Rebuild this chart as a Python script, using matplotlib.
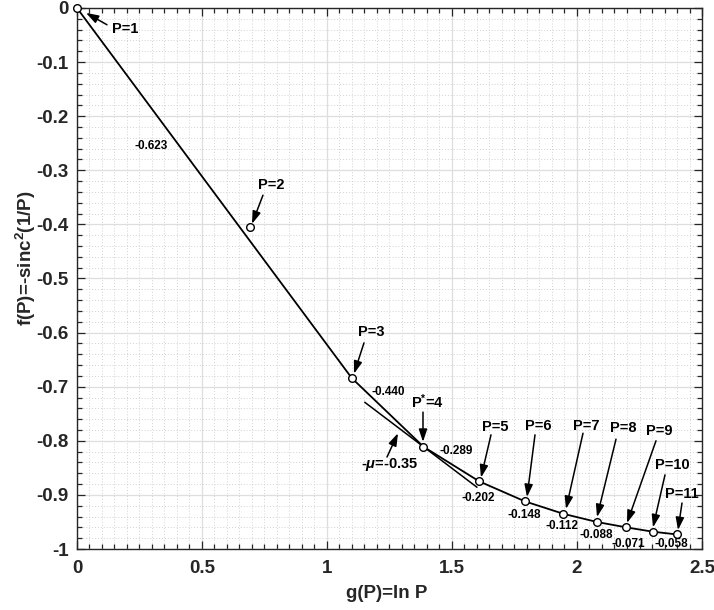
import matplotlib
matplotlib.use("Agg")
import matplotlib.pyplot as plt
from matplotlib.ticker import MultipleLocator

plt.rcParams["font.family"] = ["Liberation Sans", "DejaVu Sans"]
plt.rcParams["font.weight"] = "bold"
plt.rcParams["mathtext.fontset"] = "custom"
plt.rcParams["mathtext.rm"] = "Liberation Sans:bold"
plt.rcParams["mathtext.it"] = "Liberation Sans:italic"
plt.rcParams["mathtext.bf"] = "Liberation Sans:bold"

# data
P = [1, 2, 3, 4, 5, 6, 7, 8, 9, 10, 11]
g = [0.0, 0.693, 1.099, 1.386, 1.609, 1.792, 1.946, 2.079, 2.197, 2.303, 2.398]
f = [0.0, -0.405, -0.684, -0.811, -0.875, -0.912, -0.935, -0.950, -0.960, -0.968, -0.973]
slopes = ["-0.623", "-0.440", "-0.289", "-0.202", "-0.148", "-0.112", "-0.088", "-0.071", "-0.058"]
mu = 0.35
p_star = 4
tangent_x = [1.152, 1.599]

# curve skips P=2 (straight P=1 -> P=3)
curve_idx = [0] + list(range(2, len(P)))

fig = plt.figure(figsize=(7.14, 6.10), dpi=100)
ax = fig.add_axes([0.1078, 0.1, 0.8754, 0.8869])

ax.plot([g[i] for i in curve_idx], [f[i] for i in curve_idx], color="black", lw=1.3, zorder=3)
ax.plot(g, f, "o", ms=5.5, mfc="white", mec="black", mew=1.0, zorder=4, clip_on=False)

# tangent at P*
i4 = P.index(p_star)
ax.plot(tangent_x, [f[i4] - mu * (x - g[i4]) for x in tangent_x], color="black", lw=1.1, zorder=3)

# point labels: text pos, arrow tail, arrow head
labels = [
    ("P=1", (0.14, -0.039), (0.12, -0.031), (0.036, -0.009), "left"),
    ("P=2", (0.776, -0.327), (0.744, -0.346), (0.70, -0.399), "center"),
    ("P=3", (1.176, -0.599), (1.148, -0.619), (1.108, -0.676), "center"),
    (r"P$^{\mathrm{*}}$=4", (1.40, -0.728), (1.384, -0.747), (1.384, -0.802), "center"),
    (r"-$\mu$=-0.35", (1.252, -0.843), (1.24, -0.830), (1.284, -0.786), "center"),
    ("P=5", (1.672, -0.7745), (1.656, -0.789), (1.616, -0.868), "center"),
    ("P=6", (1.844, -0.773), (1.832, -0.789), (1.80, -0.904), "center"),
    ("P=7", (2.036, -0.773), (2.024, -0.786), (1.956, -0.926), "center"),
    ("P=8", (2.184, -0.776), (2.156, -0.797), (2.08, -0.941), "center"),
    ("P=9", (2.328, -0.782), (2.316, -0.800), (2.20, -0.952), "center"),
    ("P=10", (2.38, -0.845), (2.352, -0.863), (2.304, -0.960), "center"),
    ("P=11", (2.42, -0.898), (2.42, -0.915), (2.404, -0.965), "center"),
]
for txt, tpos, tail, head, ha in labels:
    ax.text(tpos[0], tpos[1], txt, fontsize=10.5, fontweight="bold", ha=ha, va="center", zorder=5)
    ax.annotate("", xy=head, xytext=tail,
                arrowprops=dict(arrowstyle="-|>,head_length=0.75,head_width=0.25",
                                color="black", lw=1.1, shrinkA=0, shrinkB=0), zorder=5)

slope_pos = [(0.296, -0.255), (1.244, -0.710), (1.516, -0.819), (1.604, -0.906),
             (1.788, -0.937), (1.94, -0.957), (2.076, -0.974), (2.204, -0.991), (2.376, -0.991)]
for s, (sx, sy) in zip(slopes, slope_pos):
    ax.text(sx, sy, s, fontsize=8.5, fontweight="bold", ha="center", va="center", zorder=5)

ax.set_xlim(0, 2.5)
ax.set_ylim(-1, 0)
ax.xaxis.set_major_locator(MultipleLocator(0.5))
ax.xaxis.set_minor_locator(MultipleLocator(0.05))
ax.yaxis.set_major_locator(MultipleLocator(0.1))
ax.yaxis.set_minor_locator(MultipleLocator(0.02))
ax.xaxis.set_major_formatter(plt.FuncFormatter(lambda v, _: f"{v:g}"))
ax.yaxis.set_major_formatter(plt.FuncFormatter(lambda v, _: f"{v:g}"))

ax.grid(which="major", color="#dedede", lw=0.9, ls="-", zorder=0)
ax.grid(which="minor", color="#d2d2d2", lw=0.7, ls=(0, (1, 2)), zorder=0)
ax.set_axisbelow(True)
ax.tick_params(which="both", direction="in", top=True, right=True, colors="#262626",
               labelsize=13.5, width=0.9)
ax.tick_params(which="major", length=6)
ax.tick_params(which="minor", length=3.5)
ax.tick_params(axis="x", which="major", pad=8)
ax.tick_params(axis="y", which="major", pad=6)
for lbl in ax.get_xticklabels() + ax.get_yticklabels():
    lbl.set_fontweight("bold")
for sp in ax.spines.values():
    sp.set_color("#262626")
    sp.set_linewidth(1.0)

ax.set_xlabel("g(P)=ln P", fontsize=13.5, fontweight="bold", color="#262626")
ax.set_ylabel(r"f(P)=-sinc$^{\mathrm{2}}$(1/P)", fontsize=13.5, fontweight="bold", color="#262626")
ax.xaxis.set_label_coords(0.495, -0.066)
ax.yaxis.set_label_coords(-0.062, 0.538)

fig.savefig("out.png", dpi=100)
